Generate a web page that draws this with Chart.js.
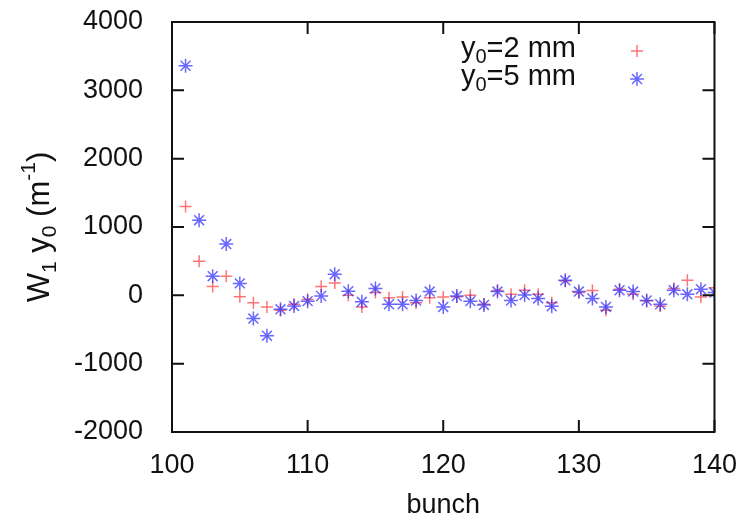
<!DOCTYPE html>
<html>
<head>
<meta charset="utf-8">
<script src="https://cdn.jsdelivr.net/npm/chart.js@4/dist/chart.umd.min.js"></script>
<style>
  html, body { margin: 0; padding: 0; background: #fff; }
  #wrap { width: 746px; height: 519px; }
</style>
</head>
<body>
<div id="wrap"><canvas id="chart"></canvas></div>
<script>
// bunch index along x
const bunches = [101, 102, 103, 104, 105, 106, 107, 108, 109, 110,
                 111, 112, 113, 114, 115, 116, 117, 118, 119, 120,
                 121, 122, 123, 124, 125, 126, 127, 128, 129, 130,
                 131, 132, 133, 134, 135, 136, 137, 138, 139, 140];
// W1*y0 for y0 = 2 mm
const w2mm = [1300, 500, 130, 280, -20, -110, -170, -220, -130, -60,
              130, 180, 0, -170, 40, -35, -25, -110, -35, -25,
              -20, 0, -130, 70, 15, 75, 15, -110, 210, 40,
              70, -220, 90, 15, -80, -155, 100, 220, -25, 110];
// W1*y0 for y0 = 5 mm
const w5mm = [3360, 1100, 280, 750, 175, -340, -590, -205, -155, -85,
              -10, 310, 60, -95, 100, -130, -130, -75, 55, -170,
              -10, -85, -140, 55, -75, 5, -45, -160, 220, 55,
              -45, -170, 75, 55, -75, -130, 75, 15, 90, 40];
const xTicks = [100, 110, 120, 130, 140];
const yTicks = [-2000, -1000, 0, 1000, 2000, 3000, 4000];
const seriesLabels = ['2 mm', '5 mm'];

const FONT = '"Liberation Sans", Arial, Helvetica, sans-serif';
const RED = 'rgba(255, 70, 70, 0.75)';
const BLUE = 'rgba(40, 40, 255, 0.7)';

const toPoints = vals => vals.map((v, i) => ({ x: bunches[i], y: v }));

// gnuplot-style frame with inward ticks on all four sides
const framePlugin = {
    id: 'frame',
    afterDraw(chart) {
        const { ctx, chartArea: a, scales } = chart;
        ctx.save();
        ctx.strokeStyle = '#111';
        ctx.lineWidth = 2;
        ctx.strokeRect(a.left, a.top, a.right - a.left, a.bottom - a.top);
        const len = 12;
        ctx.beginPath();
        xTicks.forEach(t => {
            const px = scales.x.getPixelForValue(t);
            ctx.moveTo(px, a.bottom); ctx.lineTo(px, a.bottom - len);
            ctx.moveTo(px, a.top); ctx.lineTo(px, a.top + len);
        });
        yTicks.forEach(t => {
            const py = scales.y.getPixelForValue(t);
            ctx.moveTo(a.left, py); ctx.lineTo(a.left + len, py);
            ctx.moveTo(a.right, py); ctx.lineTo(a.right - len, py);
        });
        ctx.stroke();
        ctx.restore();
    }
};

// y axis title with sub/superscripts, and the legend (text first, marker after)
const textPlugin = {
    id: 'texts',
    afterDraw(chart) {
        const { ctx, chartArea: a } = chart;
        ctx.save();
        ctx.fillStyle = '#111';
        ctx.textBaseline = 'alphabetic';
        const widthOf = parts => parts.reduce((s, p) => { ctx.font = p[1]; return s + ctx.measureText(p[0]).width; }, 0);

        // pieces: [text, font, baseline shift]
        const tBig = '31px ' + FONT, tSmall = '21px ' + FONT;
        const title = [['W', tBig, 0], ['1', tSmall, 7], [' y', tBig, 0], ['0', tSmall, 7],
                       [' (m', tBig, 0], ['-1', tSmall, -14], [')', tBig, 0]];
        ctx.translate(49, (a.top + a.bottom) / 2);
        ctx.rotate(-Math.PI / 2);
        let x = -widthOf(title) / 2;
        title.forEach(p => { ctx.font = p[1]; ctx.fillText(p[0], x, p[2]); x += ctx.measureText(p[0]).width; });
        ctx.setTransform(1, 0, 0, 1, 0, 0);

        // legend
        const big = '29px ' + FONT, small = '20px ' + FONT;
        const styles = [['cross', RED, 6], ['star', BLUE, 7]];
        seriesLabels.forEach((lab, i) => {
            const y = 57 + i * 28;
            const parts = [['y', big, 0], ['0', small, 6], ['=' + lab, big, 0]];
            let lx = 576 - widthOf(parts);
            parts.forEach(p => { ctx.font = p[1]; ctx.fillText(p[0], lx, y + p[2]); lx += ctx.measureText(p[0]).width; });
            ctx.strokeStyle = styles[i][1];
            ctx.lineWidth = 1.5;
            Chart.helpers.drawPoint(ctx, { pointStyle: styles[i][0], radius: styles[i][2], rotation: 0, borderWidth: 1.5 }, 637, y - 6);
        });
        ctx.restore();
    }
};

new Chart(document.getElementById('chart'), {
    type: 'scatter',
    data: {
        datasets: [{
            label: 'y0=2 mm',
            data: toPoints(w2mm),
            pointStyle: 'cross',
            pointRadius: 6,
            borderWidth: 1.5,
            borderColor: RED,
            backgroundColor: RED,
            order: 2
        }, {
            label: 'y0=5 mm',
            data: toPoints(w5mm),
            pointStyle: 'star',
            pointRadius: 7,
            borderWidth: 1.5,
            borderColor: BLUE,
            backgroundColor: BLUE,
            order: 1
        }]
    },
    options: {
        responsive: true,
        maintainAspectRatio: false,
        animation: false,
        layout: { padding: { left: 0, top: 22, right: 26, bottom: 0 } },
        plugins: {
            legend: { display: false },
            tooltip: { enabled: false }
        },
        scales: {
            x: {
                type: 'linear',
                min: 100,
                max: 140,
                afterFit: s => { s.height = 87; },
                afterBuildTicks: s => { s.ticks = xTicks.map(v => ({ value: v })); },
                grid: { display: false },
                border: { display: false },
                ticks: { color: '#111', font: { family: FONT, size: 27 }, padding: 9, maxRotation: 0, callback: v => String(v) },
                title: { display: true, text: 'bunch', color: '#111', font: { family: FONT, size: 27 }, padding: { top: 0, bottom: -3 } }
            },
            y: {
                min: -2000,
                max: 4000,
                afterFit: s => { s.width = 172; s.paddingTop = 0; s.paddingBottom = 0; },
                afterBuildTicks: s => { s.ticks = yTicks.map(v => ({ value: v })); },
                grid: { display: false },
                border: { display: false },
                ticks: { color: '#111', font: { family: FONT, size: 27 }, padding: 21, callback: v => String(v) }
            }
        }
    },
    plugins: [framePlugin, textPlugin]
});
</script>
</body>
</html>
